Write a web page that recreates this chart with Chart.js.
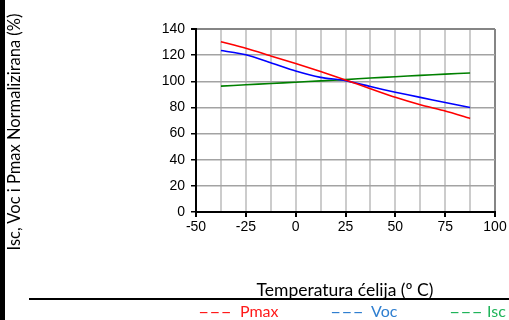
<!DOCTYPE html>
<html>
<head>
<meta charset="utf-8">
<script src="https://cdn.jsdelivr.net/npm/chart.js@4.4.1/dist/chart.umd.min.js"></script>
<style>
  html, body { margin:0; padding:0; background:#fff; }
  #wrap { position:relative; width:509px; height:320px; overflow:hidden; background:#fff; }
  #c { position:absolute; left:0; top:0; }
  .t { position:absolute; white-space:nowrap; font-family:Lato, "Open Sans", sans-serif; }
</style>
</head>
<body>
<div id="wrap">
  <canvas id="c" width="509" height="320"></canvas>
  <div style="position:absolute;left:0;top:0;width:5px;height:320px;background:#000"></div>
  <div style="position:absolute;left:29px;top:298px;width:480px;height:2px;background:#000"></div>
  <div id="ytitle" class="t" style="font-size:16.5px;color:#000;left:14px;top:132px;transform:translate(-50%,-50%) rotate(-90deg);">Isc, Voc i Pmax Normalizirana (%)</div>
  <div id="xtitle" class="t" style="font-size:17.5px;color:#000;left:345px;top:289px;transform:translate(-50%,-50%);">Temperatura ćelija (º C)</div>
  <div id="legend"></div>
</div>
<script>
// Data
const temperatures = [-37.5, -25, -12.5, 0, 12.5, 25, 37.5, 50, 62.5, 75, 87.5];
const pmaxValues   = [130.3, 125.2, 119.4, 113.6, 107.4, 101, 94.3, 87.7, 82, 77.2, 71.6];
const vocValues    = [123.5, 120.3, 114.2, 107.8, 103, 100.5, 96, 91.6, 87.7, 83.8, 80];
const iscValues    = [96.3, 97.3, 98.3, 99.3, 100.3, 101.3, 102.5, 103.5, 104.5, 105.5, 106.3];
const seriesNames  = ["Pmax", "Voc", "Isc"];
const xMin = -50, xMax = 100, xStep = 12.5, xLabelStep = 25;
const yMin = 0, yMax = 140, yStep = 20;

const lineColors   = ["#ff0000", "#0000ff", "#008000"];
const legendColors = ["#ff1a1a", "#2f7fd0", "#1fb45a"];
const legendX      = [[198, 240], [330, 371], [449, 487]];

const seriesValues = [pmaxValues, vocValues, iscValues];
const datasets = seriesNames.map((name, k) => ({
  label: name,
  data: temperatures.map((t, i) => ({ x: t, y: seriesValues[k][i] })),
  borderColor: lineColors[k],
  borderWidth: 1.6,
  pointRadius: 0,
  tension: 0.2,
  fill: false
}));

// legend as real text
const lg = document.getElementById('legend');
seriesNames.forEach((name, k) => {
  const d = document.createElement('div');
  d.className = 't';
  d.style.cssText = `font-size:16px;color:${legendColors[k]};left:${legendX[k][0]}px;top:301px;transform:scaleX(1.9);transform-origin:left center;`;
  d.textContent = '---';
  lg.appendChild(d);
  const n = document.createElement('div');
  n.className = 't';
  n.style.cssText = `font-size:16px;color:${legendColors[k]};left:${legendX[k][1]}px;top:301px;`;
  n.textContent = name;
  lg.appendChild(n);
});

const tickFont = { family: '"Liberation Sans", Arial, sans-serif', size: 14 };
const isMultiple = (v, m) => Math.abs(v % m) < 1e-6;

new Chart(document.getElementById('c'), {
  type: 'line',
  data: { datasets },
  options: {
    responsive: false,
    animation: false,
    layout: { padding: { left: 0, top: 29, right: 14, bottom: 78 } },
    plugins: { legend: { display: false }, tooltip: { enabled: false } },
    scales: {
      x: {
        type: 'linear',
        min: xMin, max: xMax,
        afterFit: s => { s.height = 30; },
        ticks: {
          stepSize: xStep,
          autoSkip: false,
          maxRotation: 0,
          color: '#000',
          font: tickFont,
          padding: 2,
          callback: v => (isMultiple(v, xLabelStep) ? String(v) : '')
        },
        grid: {
          color: ctx => (ctx.tick && ctx.tick.value === xMax) ? '#858585' : '#cccccc',
          lineWidth: 2,
          tickLength: 5,
          tickColor: ctx => (ctx.tick && isMultiple(ctx.tick.value, xLabelStep)) ? '#000' : 'rgba(0,0,0,0)'
        },
        border: { color: '#000', width: 2 }
      },
      y: {
        min: yMin, max: yMax,
        afterFit: s => { s.width = 196; },
        ticks: { stepSize: yStep, color: '#000', font: tickFont, padding: 6 },
        grid: {
          color: ctx => (ctx.tick && ctx.tick.value === yMax) ? '#858585' : '#a3a3a3',
          lineWidth: ctx => (ctx.tick && ctx.tick.value === yMax) ? 2 : 1.5,
          tickLength: 5,
          tickColor: '#000'
        },
        border: { color: '#000', width: 2 }
      }
    }
  }
});
</script>
</body>
</html>
